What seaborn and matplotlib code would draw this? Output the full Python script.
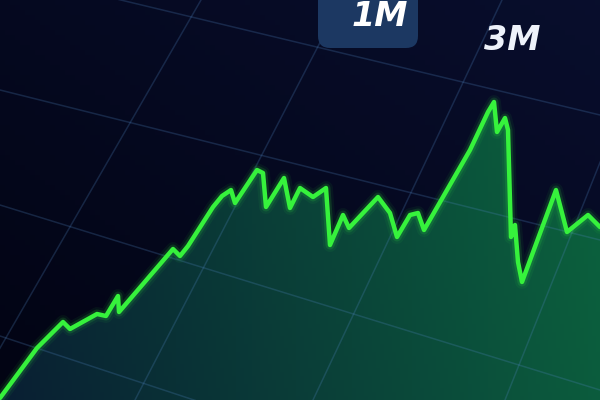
import numpy as np
import matplotlib
matplotlib.use('Agg')
import matplotlib.pyplot as plt
import seaborn as sns
from matplotlib.patches import FancyBboxPatch

# price series (x = time step, price = height above bottom edge)
days = [0, 37, 63, 70, 97, 106, 118, 119, 173, 180, 188, 213, 222, 231, 235,
        257, 263, 266, 284, 290, 300, 313, 326, 330, 343, 349, 378, 390, 397,
        410, 418, 424, 470, 488, 494, 497, 505, 508, 511, 515, 518, 522, 556,
        567, 588, 600]
price = [2, 52, 78, 71, 86, 84, 104, 88, 151, 144, 154, 193, 204, 210, 197,
         230, 227, 193, 222, 192, 212, 203, 212, 155, 185, 172, 203, 187, 163,
         185, 187, 170, 250, 288, 298, 268, 282, 270, 163, 175, 138, 118, 210,
         168, 185, 173]

# tilted grid of the photographed screen
vert_top_x = [201, 342, 502, 665]
vert_bottom_x = [-30, 135, 313, 505]
horiz_left_y = [429, 310, 195, 64]
horiz_right_y = [285, 160, 10, -134]

range_labels = ['1M', '3M']

bg = '#040920'
line_color = '#36f23c'

sns.set_style('dark')
fig = plt.figure(figsize=(6, 4), dpi=100)
ax = fig.add_axes([0, 0, 1, 1])

# background with a slight lift toward the upper right
gx, gy = np.meshgrid(np.linspace(0, 1, 120), np.linspace(0, 1, 80))
shade = 0.5 * gx + 0.5 * gy
bg_img = np.zeros((80, 120, 3))
bg_img[..., 0] = 0.008 + 0.025 * shade
bg_img[..., 1] = 0.015 + 0.04 * shade
bg_img[..., 2] = 0.075 + 0.1 * shade
ax.imshow(bg_img, extent=(0, 600, 0, 400), origin='lower', aspect='auto', zorder=0)

# green gradient area under the line
poly = ax.fill_between(days, price, 0, color='none', zorder=1)
fx = np.linspace(0, 1, 150)[None, :].repeat(100, axis=0)
fy = np.linspace(0, 1, 100)[:, None].repeat(150, axis=1)
fill_img = np.zeros((100, 150, 3))
fill_img[..., 0] = 0.035 + 0.01 * fx
fill_img[..., 1] = 0.12 + 0.24 * fx + 0.04 * fy
fill_img[..., 2] = 0.2 + 0.04 * fx
im = ax.imshow(fill_img, extent=(0, 600, 0, 400), origin='lower', aspect='auto', zorder=1)
im.set_clip_path(poly.get_paths()[0], transform=ax.transData)

# perspective grid
for xt, xb in zip(vert_top_x, vert_bottom_x):
    ax.plot([xb, xt], [0, 400], color='#4f84c0', alpha=0.25, lw=1.1, zorder=2)
for yl, yr in zip(horiz_left_y, horiz_right_y):
    ax.plot([0, 600], [yl, yr], color='#4f84c0', alpha=0.25, lw=1.1, zorder=2)

# glowing price line
for lw, a in [(10, 0.06), (6.5, 0.14)]:
    ax.plot(days, price, color=line_color, lw=lw, alpha=a, zorder=3,
            solid_joinstyle='round', solid_capstyle='round')
sns.lineplot(x=days, y=price, ax=ax, color=line_color, lw=3.2, zorder=4,
             sort=False)
ax.lines[-1].set_solid_joinstyle('round')
ax.set_xlim(0, 600)
ax.set_ylim(0, 400)
ax.axis('off')

# range selector buttons
btn = FancyBboxPatch((318, 352), 100, 70, boxstyle='round,pad=0,rounding_size=12',
                     facecolor='#1c3862', edgecolor='none', zorder=5)
ax.add_patch(btn)
ax.text(380, 374, range_labels[0], color='white', fontsize=24, fontweight='bold',
        ha='center', va='baseline', style='italic', zorder=6)
ax.text(512, 350, range_labels[1], color='#eef2fa', fontsize=24, fontweight='bold',
        ha='center', va='baseline', style='italic', zorder=6)

fig.savefig('out.png', dpi=100, facecolor=bg)
